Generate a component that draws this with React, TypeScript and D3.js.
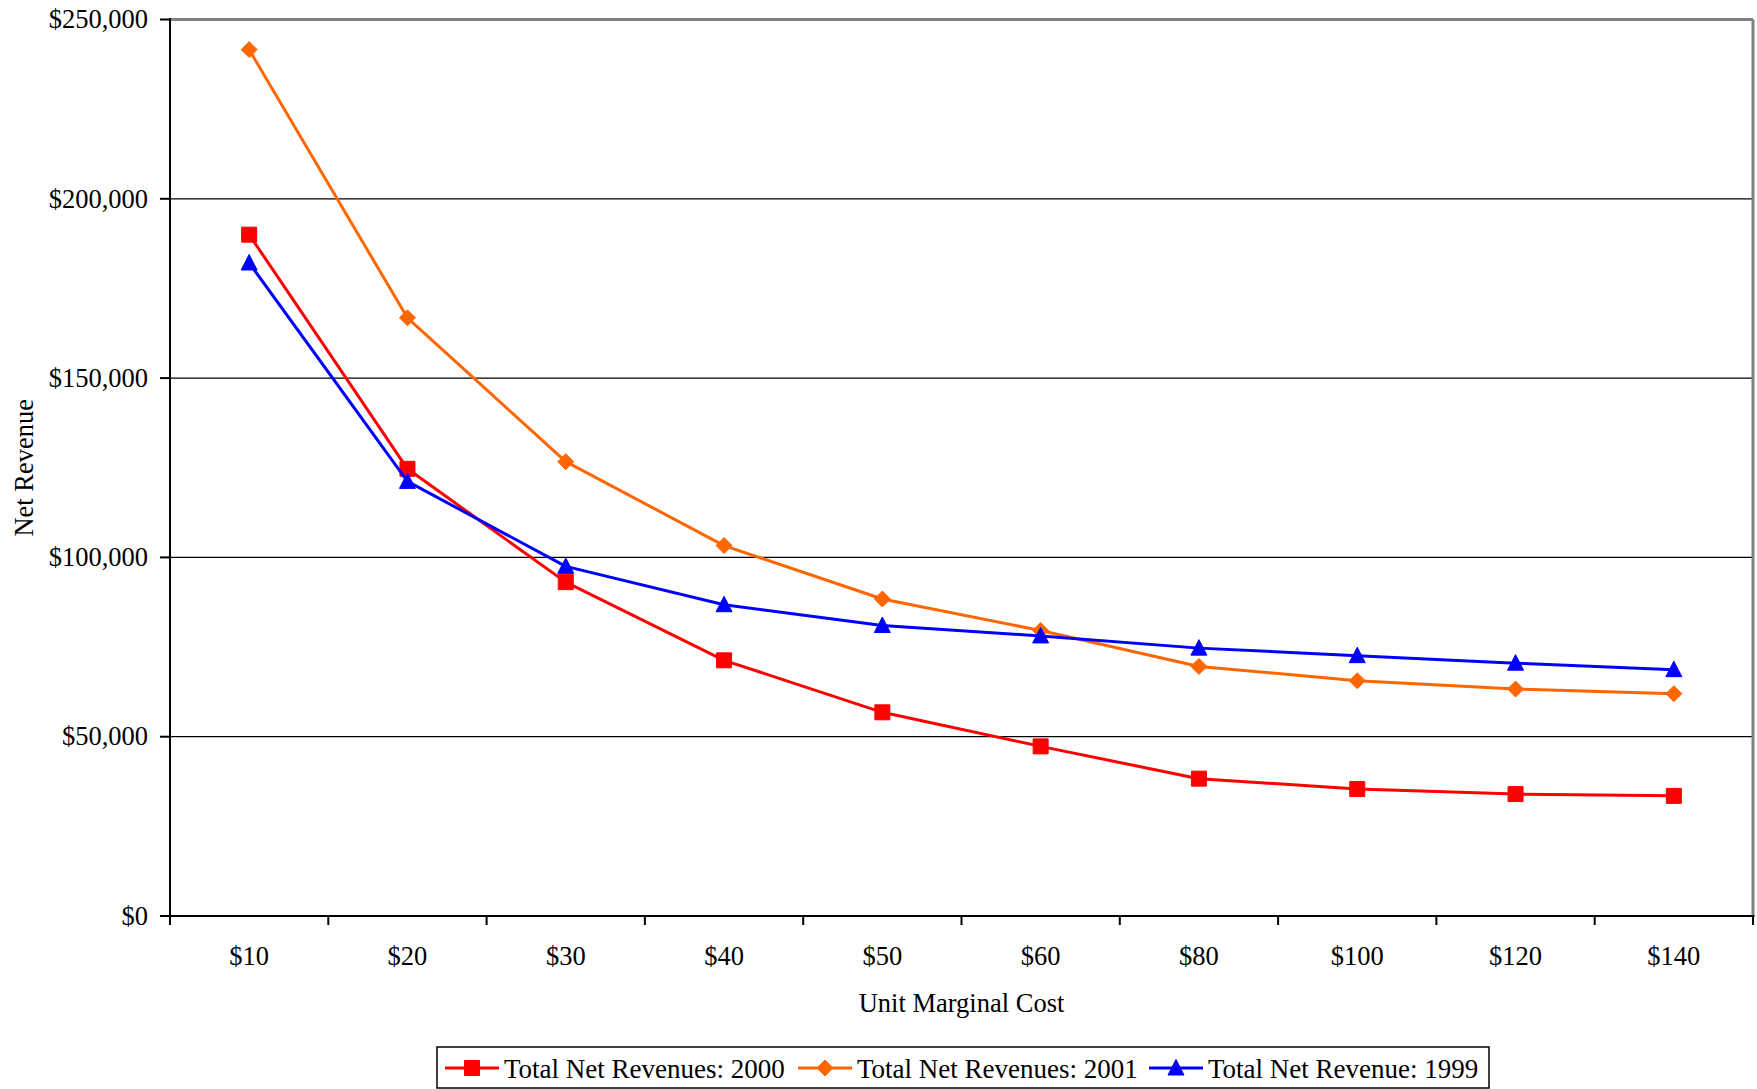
import React, { useEffect } from "react";
import * as d3 from "d3";

// Unit marginal cost categories (x axis)
const categories: string[] = ["$10", "$20", "$30", "$40", "$50", "$60", "$80", "$100", "$120", "$140"];

// Net revenue per series, one value per category
const revenues2000: number[] = [190000, 124700, 93100, 71300, 56800, 47300, 38300, 35400, 34000, 33500];
const revenues2001: number[] = [241600, 166800, 126700, 103300, 88400, 79600, 69600, 65600, 63300, 62000];
const revenues1999: number[] = [182100, 121200, 97500, 86800, 81000, 78100, 74700, 72600, 70500, 68700];

// Y axis ticks
const yTicks: number[] = [0, 50000, 100000, 150000, 200000, 250000];

const seriesNames: string[] = ["Total Net Revenues: 2000", "Total Net Revenues: 2001", "Total Net Revenue: 1999"];

type MarkerKind = "square" | "diamond" | "triangle";

const W = 1757;
const H = 1089;
const FONT = "'Liberation Serif', 'Times New Roman', serif";
const FS = 26.5;
const LEGEND_FS = 27;

const plot = { left: 170, right: 1753, top: 19.5, bottom: 916 };

function markerPath(kind: MarkerKind): string {
  if (kind === "square") return "M-7.5,-7.5H7.5V7.5H-7.5Z";
  if (kind === "diamond") return "M0,-8L8,0L0,8L-8,0Z";
  return "M0,-8.5L8,7L-8,7Z";
}

export default function App() {
  useEffect(() => {
    document.body.style.margin = "0";
  }, []);

  const x = d3.scaleBand<string>().domain(categories).range([plot.left, plot.right]).padding(0);
  const y = d3.scaleLinear().domain([0, 250000]).range([plot.bottom, plot.top]);
  const cx = (c: string) => (x(c) as number) + x.bandwidth() / 2;

  const fmt = (v: number) => "$" + d3.format(",")(v);

  const series = [
    { name: seriesNames[0], values: revenues2000, color: "#FF0000", marker: "square" as MarkerKind },
    { name: seriesNames[1], values: revenues2001, color: "#FF6600", marker: "diamond" as MarkerKind },
    { name: seriesNames[2], values: revenues1999, color: "#0000FF", marker: "triangle" as MarkerKind },
  ];

  const line = d3
    .line<number>()
    .x((_, i) => cx(categories[i]))
    .y((v) => y(v));

  const boundaries = categories.map((c) => x(c) as number).concat([plot.right]);

  // Legend layout
  const legendItemX = [445, 798, 1149];
  const legendY = 1068;

  return (
    <svg
      width={W}
      height={H}
      viewBox={`0 0 ${W} ${H}`}
      style={{ display: "block", position: "absolute", left: 0, top: 0, background: "#fff" }}
      fontFamily={FONT}
    >
      <rect x={0} y={0} width={W} height={H} fill="#fff" />

      {/* Horizontal gridlines */}
      {yTicks
        .filter((t) => t > 0 && t < 250000)
        .map((t) => (
          <line key={"g" + t} x1={plot.left} x2={plot.right} y1={y(t)} y2={y(t)} stroke="#000" strokeWidth={1.3} />
        ))}

      {/* Plot border: grey top and right */}
      <line x1={plot.left} x2={plot.right} y1={plot.top} y2={plot.top} stroke="#808080" strokeWidth={3} />
      <line x1={plot.right} x2={plot.right} y1={plot.top} y2={plot.bottom} stroke="#808080" strokeWidth={3} />

      {/* Axes */}
      <line x1={plot.left} x2={plot.left} y1={plot.top - 1.5} y2={plot.bottom} stroke="#000" strokeWidth={2} />
      <line x1={plot.left} x2={plot.right + 1.5} y1={plot.bottom} y2={plot.bottom} stroke="#000" strokeWidth={2} />

      {/* Y ticks and labels */}
      {yTicks.map((t) => (
        <g key={"yt" + t}>
          <line x1={plot.left - 10} x2={plot.left} y1={y(t)} y2={y(t)} stroke="#000" strokeWidth={2} />
          <text x={148} y={y(t)} dy="0.33em" textAnchor="end" fontSize={FS} fill="#000">
            {fmt(t)}
          </text>
        </g>
      ))}

      {/* X ticks at category boundaries */}
      {boundaries.map((bx, i) => (
        <line key={"xt" + i} x1={bx} x2={bx} y1={plot.bottom} y2={plot.bottom + 9} stroke="#000" strokeWidth={2} />
      ))}
      {categories.map((c) => (
        <text key={"xl" + c} x={cx(c)} y={965} textAnchor="middle" fontSize={FS} fill="#000">
          {c}
        </text>
      ))}

      {/* Axis titles */}
      <text x={(plot.left + plot.right) / 2} y={1012} textAnchor="middle" fontSize={FS} fill="#000">
        Unit Marginal Cost
      </text>
      <text
        transform={`translate(33, ${(plot.top + plot.bottom) / 2}) rotate(-90)`}
        textAnchor="middle"
        fontSize={FS}
        fill="#000"
      >
        Net Revenue
      </text>

      {/* Series lines and markers */}
      {series.map((s) => (
        <g key={s.name}>
          <path d={line(s.values) || ""} fill="none" stroke={s.color} strokeWidth={3} strokeLinejoin="round" />
          {s.values.map((v, i) => (
            <path
              key={i}
              d={markerPath(s.marker)}
              transform={`translate(${cx(categories[i])}, ${y(v)})`}
              fill={s.color}
              stroke={s.color}
              strokeWidth={1}
              strokeLinejoin="round"
            />
          ))}
        </g>
      ))}

      {/* Legend */}
      <rect x={437} y={1047} width={1052} height={41} fill="#fff" stroke="#000" strokeWidth={1.5} />
      {series.map((s, i) => (
        <g key={"lg" + i} transform={`translate(${legendItemX[i]}, ${legendY})`}>
          <line x1={0} x2={54} y1={0} y2={0} stroke={s.color} strokeWidth={3} />
          <path d={markerPath(s.marker)} transform="translate(27,0)" fill={s.color} stroke={s.color} strokeWidth={1} />
          <text x={59} y={10} fontSize={LEGEND_FS} fill="#000">
            {s.name}
          </text>
        </g>
      ))}
    </svg>
  );
}
